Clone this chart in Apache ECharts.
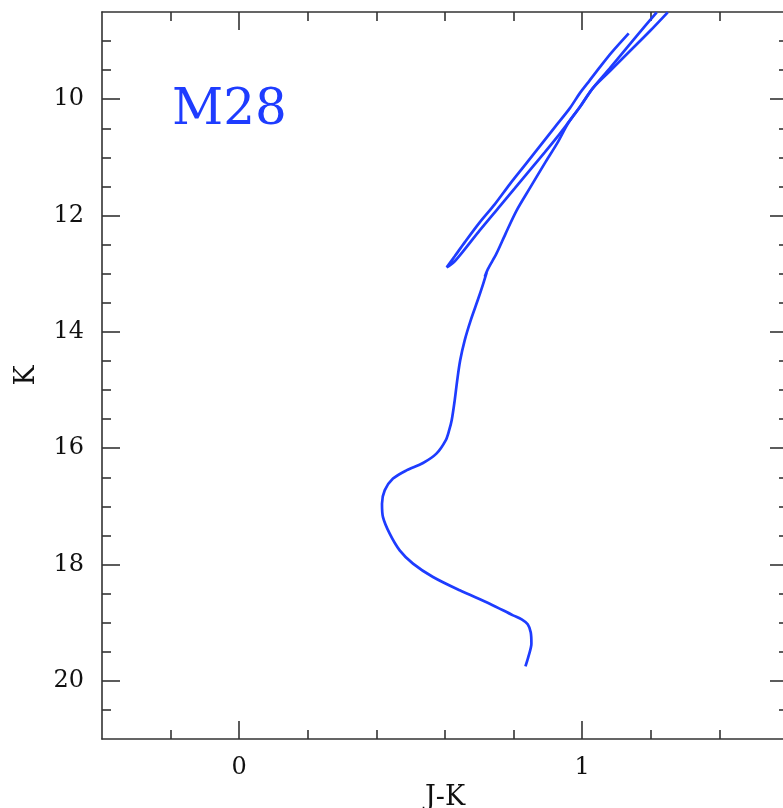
<!DOCTYPE html>
<html>
<head>
<meta charset="utf-8">
<script src="https://cdn.jsdelivr.net/npm/echarts@6/dist/echarts.min.js"></script>
<style>
html,body{margin:0;padding:0;background:#fff;overflow:hidden;}
#chart{width:783px;height:808px;}
</style>
</head>
<body>
<div id="chart"></div>
<script>
// ---- data ----
const clusterName = 'M28';
const xAxisTitle = 'J-K';
const yAxisTitle = 'K';

// main sequence -> subgiant branch -> red giant branch
const rgbJK = [0.8345,0.8426,0.8519,0.8499,0.8411,0.8236,0.7983,0.7303,0.6429,0.5650,0.5067,0.4679,0.4388,0.4192,0.4163,0.4242,0.4484,0.4875,0.5359,0.5749,0.6020,0.6122,0.6195,0.6283,0.6356,0.6443,0.6574,0.6749,0.6953,0.7099,0.7216,0.7160,0.7250,0.7499,0.7770,0.8090,0.8469,0.8907,0.9286,0.9606,0.9927,1.0306,1.0802,1.1385,1.1968,1.2493];
const rgbK  = [19.75,19.596,19.36,19.166,19.028,18.943,18.874,18.673,18.444,18.215,17.985,17.756,17.469,17.184,16.953,16.725,16.523,16.381,16.255,16.094,15.865,15.691,15.520,15.177,14.833,14.489,14.145,13.801,13.457,13.199,12.975,13.050,12.920,12.655,12.306,11.910,11.532,11.102,10.741,10.397,10.139,9.813,9.520,9.176,8.832,8.506];

// horizontal branch / asymptotic giant branch loop
const agbJK = [1.1356,1.0860,1.0510,1.0219,0.9927,0.9636,0.9198,0.8761,0.8324,0.7886,0.7449,0.7012,0.6574,0.6283,0.6050,0.6254,0.6574,0.7012,0.7595,0.8032,0.8469,0.8907,0.9286,0.9577,0.9927,1.0306,1.0802,1.1239,1.1676,1.2172];
const agbK  = [8.867,9.194,9.452,9.675,9.899,10.157,10.483,10.810,11.137,11.463,11.807,12.117,12.461,12.701,12.890,12.804,12.581,12.254,11.841,11.532,11.222,10.913,10.638,10.414,10.139,9.813,9.469,9.159,8.850,8.506];

// axes
const xMin = -0.4, xMax = 1.6;
const yMin = 8.5, yMax = 21;
const xMajorTicks = [0, 1];
const xMinorTicks = [-0.2, 0.2, 0.4, 0.6, 0.8, 1.2, 1.4];
const yMajorTicks = [10, 12, 14, 16, 18, 20];
const yMinorTicks = [9, 9.5, 10.5, 11, 11.5, 12.5, 13, 13.5, 14.5, 15, 15.5, 16.5, 17, 17.5, 18.5, 19, 19.5, 20.5];

// ---- chart ----
const BLUE = '#1e3cff';
const AXIS = '#333333';
const FONT = 'DejaVu Serif';

function pairs(xs, ys){ return xs.map((x,i)=>[x, ys[i]]); }

function xAx(pos, ticks, len, showLine, showLabels, extra){
  return Object.assign({
    type:'value', gridIndex:0, position:pos, min:xMin, max:xMax,
    axisLine:{show:showLine, onZero:false, lineStyle:{color:AXIS, width:1.6}},
    axisTick:{show:true, inside:true, length:len, customValues:ticks, lineStyle:{color:AXIS, width:1.6}},
    axisLabel:{show:showLabels, customValues:ticks, margin:17, color:'#111', fontFamily:FONT, fontSize:24},
    splitLine:{show:false}
  }, extra||{});
}
function yAx(pos, ticks, len, showLine, showLabels, extra){
  return Object.assign({
    type:'value', gridIndex:0, position:pos, min:yMin, max:yMax, inverse:true,
    axisLine:{show:showLine, onZero:false, lineStyle:{color:AXIS, width:1.6}},
    axisTick:{show:true, inside:true, length:len, customValues:ticks, lineStyle:{color:AXIS, width:1.6}},
    axisLabel:{show:showLabels, customValues:ticks, margin:18, color:'#111', fontFamily:FONT, fontSize:24},
    splitLine:{show:false}
  }, extra||{});
}

const chart = echarts.init(document.getElementById('chart'), null, {renderer:'canvas'});
chart.setOption({
  backgroundColor:'#ffffff',
  animation:false,
  grid:{left:102, top:12, right:-5, height:727, containLabel:false, outerBoundsMode:'none'},
  xAxis:[
    xAx('bottom', xMajorTicks, 18, true, true, {
      name:xAxisTitle, nameLocation:'middle', nameGap:45,
      nameTextStyle:{color:'#111', fontFamily:FONT, fontSize:27}
    }),
    xAx('bottom', xMinorTicks, 9, false, false),
    xAx('top', xMajorTicks, 18, true, false),
    xAx('top', xMinorTicks, 9, false, false)
  ],
  yAxis:[
    yAx('left', yMajorTicks, 18, true, true, {
      name:yAxisTitle, nameLocation:'middle', nameGap:62, nameRotate:90,
      nameTextStyle:{color:'#111', fontFamily:FONT, fontSize:27}
    }),
    yAx('left', yMinorTicks, 9, false, false),
    yAx('right', yMajorTicks, 18, true, false),
    yAx('right', yMinorTicks, 9, false, false)
  ],
  series:[
    {type:'line', name:'RGB', xAxisIndex:0, yAxisIndex:0, data:pairs(rgbJK, rgbK),
     showSymbol:false, smooth:0.3, clip:true, lineStyle:{color:BLUE, width:2.7}},
    {type:'line', name:'AGB', xAxisIndex:0, yAxisIndex:0, data:pairs(agbJK, agbK),
     showSymbol:false, smooth:0.3, clip:true, lineStyle:{color:BLUE, width:2.7}}
  ],
  graphic:[
    {type:'text', left:172, top:86, style:{text:clusterName, fill:BLUE, font:'50px "DejaVu Serif"'}}
  ]
});
</script>
</body>
</html>
